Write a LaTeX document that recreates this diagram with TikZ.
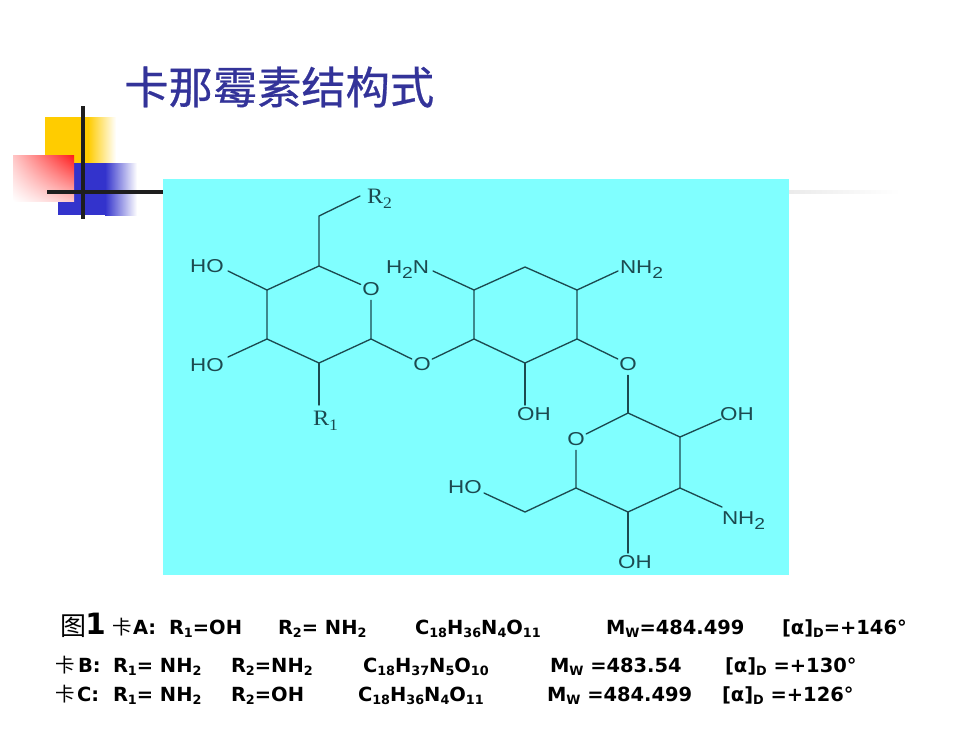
\documentclass[tikz,border=0pt]{standalone}
\usepackage{fontspec}
\usetikzlibrary{shadings}
\setmainfont{DejaVu Sans}
\newfontfamily\cjk{Noto Sans CJK SC}
\newfontfamily\cjktitle[FakeBold=0.6]{Noto Sans CJK SC}
\newfontfamily\labelfont[FakeStretch=1.2]{Liberation Sans}
\newfontfamily\rfont[FakeStretch=1.1]{Liberation Serif}
\definecolor{titleblue}{HTML}{333399}
\definecolor{cyanbg}{HTML}{80FFFF}
\definecolor{bondcol}{HTML}{1C4A50}
\definecolor{decoyellow}{HTML}{FFCC00}
\definecolor{decoblue}{HTML}{3333CC}
\definecolor{decored}{HTML}{FF1A1A}
\definecolor{barcol}{HTML}{1E1E1E}
\newcommand{\lowr}[1]{\raisebox{-0.32ex}{\fontsize{9.6}{10}\selectfont #1}}
\newcommand{\atomsub}[1]{\raisebox{-0.55ex}{\fontsize{12}{12}\selectfont #1}}
\tikzset{
  x=0.75pt,y=-0.75pt,
  bond/.style={draw=bondcol,line width=1pt,line cap=round,line join=round},
  atom/.style={text=bondcol,inner sep=0pt,outer sep=0pt,font=\labelfont\fontsize{14}{15}\selectfont},
  ratom/.style={atom,font=\rfont\fontsize{16.5}{17}\selectfont},
  oxy/.style={atom,circle,minimum size=17pt},
  vtx/.style={coordinate},
  row/.style={anchor=base west,inner sep=0pt,outer sep=0pt,text=black,font=\bfseries\fontsize{14.6}{16}\selectfont},
  rowcjk/.style={anchor=base west,inner sep=0pt,outer sep=0pt,text=black,font=\cjk\fontsize{14.6}{16}\selectfont},
  bar/.style={draw=barcol,line width=3pt},
}
\begin{document}
\begin{tikzpicture}
\useasboundingbox (0,0) rectangle (980,735);
\fill[white] (0,0) rectangle (980,735);

% decoration
\shade[left color=decoyellow,right color=white] (88,117) rectangle (116,163);
\fill[decoyellow] (45,117) rectangle (88.5,163);
\shade[left color=decoblue,right color=white] (105,163) rectangle (137,215);
\fill[decoblue] (58,163) rectangle (105.5,215);
\shade[lower left=white,upper right=decored,lower right=white!75!decored,upper left=white!75!decored] (13,155) rectangle (74,201);
\draw[bar] (83,106) -- (83,219);
\draw[bar] (47,192) -- (163,192);
\shade[left color=black!8,right color=white] (789,190) rectangle (900,193);

% panel
\fill[cyanbg] (163,179) rectangle (789,575);

% title
\node[anchor=west,inner sep=0pt,text=titleblue,font=\cjktitle\fontsize{33.2}{36}\selectfont] (title) at (124,87) {卡那霉素结构式};

% ring 1
\node[vtx] (a1) at (319,266) {};
\node[vtx] (a2) at (371,339) {};
\node[vtx] (a3) at (319,363) {};
\node[vtx] (a4) at (267,339) {};
\node[vtx] (a5) at (267,290) {};
\node[vtx] (a6) at (319,216) {};
\node[oxy] (oa) at (371,289) {O};
\node[ratom,anchor=base west] (r2) at (367,203) {R\atomsub{2}};
\node[ratom,anchor=base west] (r1) at (313,425) {R\atomsub{1}};
\node[atom] (hoa) at (207,266) {HO};
\node[atom] (hob) at (207,365) {HO};
\coordinate (r2e) at (360,196);
\coordinate (r1e) at (319,405);
\coordinate (hoae) at (228,271);
\coordinate (hobe) at (228,357);
\draw[bond] (r2e) -- (a6) -- (a1) -- (oa);
\draw[bond] (a1) -- (a5) -- (a4) -- (a3) -- (a2) -- (oa);
\draw[bond] (hoae) -- (a5);
\draw[bond] (hobe) -- (a4);
\draw[bond] (a3) -- (r1e);

% link 1
\node[oxy] (ob) at (422,364) {O};
\draw[bond] (a2) -- (ob);

% ring 2
\node[vtx] (b1) at (474,290) {};
\node[vtx] (b2) at (525,267) {};
\node[vtx] (b3) at (577,290) {};
\node[vtx] (b4) at (577,339) {};
\node[vtx] (b5) at (525,363) {};
\node[vtx] (b6) at (474,339) {};
\node[atom,anchor=base west] (h2n) at (386,273) {H\atomsub{2}N};
\node[atom,anchor=base west] (nh2a) at (620,273) {NH\atomsub{2}};
\node[atom] (oh1) at (534,414) {OH};
\coordinate (h2ne) at (433,271);
\coordinate (nh2ae) at (618,271);
\coordinate (oh1e) at (525,405);
\draw[bond] (b1) -- (b2) -- (b3) -- (b4) -- (b5) -- (b6) -- cycle;
\draw[bond] (ob) -- (b6);
\draw[bond] (h2ne) -- (b1);
\draw[bond] (b3) -- (nh2ae);
\draw[bond] (b5) -- (oh1e);

% link 2
\node[oxy] (oc) at (628,364) {O};
\draw[bond] (b4) -- (oc);

% ring 3
\node[vtx] (c1) at (628,413) {};
\node[vtx] (c2) at (680,437) {};
\node[vtx] (c3) at (680,488) {};
\node[vtx] (c4) at (628,512) {};
\node[vtx] (c5) at (576,488) {};
\node[vtx] (c6) at (525,512) {};
\node[oxy] (od) at (576,439) {O};
\node[atom] (oh2) at (737,414) {OH};
\node[atom,anchor=base west] (nh2b) at (722,524) {NH\atomsub{2}};
\node[atom] (oh3) at (635,562) {OH};
\node[atom] (hoc) at (465,487) {HO};
\coordinate (oh2e) at (721,419);
\coordinate (nh2be) at (722,507);
\coordinate (oh3e) at (628,553);
\coordinate (hoce) at (484,493);
\draw[bond] (oc) -- (c1);
\draw[bond] (od) -- (c1) -- (c2) -- (c3) -- (c4) -- (c5) -- (od);
\draw[bond] (c2) -- (oh2e);
\draw[bond] (c3) -- (nh2be);
\draw[bond] (c4) -- (oh3e);
\draw[bond] (c5) -- (c6) -- (hoce);

% row 1
\node[anchor=base west,inner sep=0pt,font=\cjk\fontsize{19.5}{20}\selectfont] (fig) at (60,635) {图};
\node[anchor=base west,inner sep=0pt,font=\bfseries\fontsize{22}{22}\selectfont] (fign) at (85,634) {1};
\node[rowcjk] (k1) at (112,634) {卡};
\node[row] (k1t) at (133,634) {A:};
\node[row] (a-r1) at (169,634) {R\lowr{1}=OH};
\node[row] (a-r2) at (278,634) {R\lowr{2}= NH\lowr{2}};
\node[row] (a-f) at (415,634) {C\lowr{18}H\lowr{36}N\lowr{4}O\lowr{11}};
\node[row] (a-m) at (606,634) {M\lowr{W}=484.499};
\node[row] (a-a) at (782,634) {[α]\lowr{D}=+146°};
% row 2
\node[rowcjk] (k2) at (55,672) {卡};
\node[row] (k2t) at (78,672) {B:};
\node[row] (b-r1) at (113,672) {R\lowr{1}= NH\lowr{2}};
\node[row] (b-r2) at (231,672) {R\lowr{2}=NH\lowr{2}};
\node[row] (b-f) at (363,672) {C\lowr{18}H\lowr{37}N\lowr{5}O\lowr{10}};
\node[row] (b-m) at (550,672) {M\lowr{W} =483.54};
\node[row] (b-a) at (725,672) {[α]\lowr{D} =+130°};
% row 3
\node[rowcjk] (k3) at (55,701) {卡};
\node[row] (k3t) at (77,701) {C:};
\node[row] (c-r1) at (113,701) {R\lowr{1}= NH\lowr{2}};
\node[row] (c-r2) at (231,701) {R\lowr{2}=OH};
\node[row] (c-f) at (358,701) {C\lowr{18}H\lowr{36}N\lowr{4}O\lowr{11}};
\node[row] (c-m) at (547,701) {M\lowr{W} =484.499};
\node[row] (c-a) at (722,701) {[α]\lowr{D} =+126°};
\end{tikzpicture}
\end{document}
